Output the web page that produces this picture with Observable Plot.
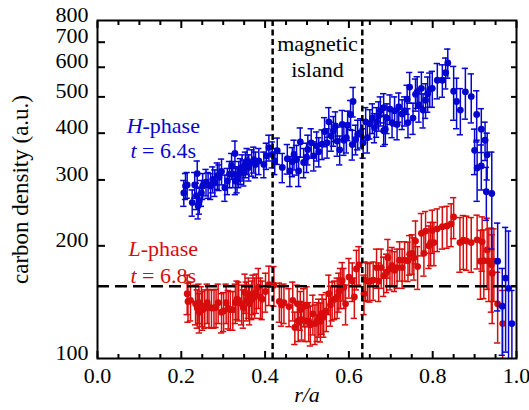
<!DOCTYPE html>
<html><head><meta charset="utf-8">
<script src="https://cdn.jsdelivr.net/npm/d3@7"></script>
<script src="https://cdn.jsdelivr.net/npm/@observablehq/plot@0.6"></script>
<style>
body{margin:0;background:#fff}
#chart svg, #chart svg text, #chart svg tspan { font-family: "Liberation Serif", "Times New Roman", serif !important; }
</style>
</head><body><div id="chart"></div>
<script>
// H-phase (t = 6.4 s), blue
const blueX = [0.206,0.210,0.214,0.226,0.232,0.236,0.238,0.240,0.243,0.248,0.251,0.259,0.264,0.270,0.275,0.280,0.286,0.290,0.296,0.304,0.310,0.315,0.320,0.323,0.328,0.329,0.333,0.337,0.341,0.345,0.349,0.353,0.357,0.361,0.368,0.373,0.377,0.385,0.397,0.403,0.409,0.417,0.423,0.429,
0.441,0.453,0.459,0.465,0.469,0.475,0.480,0.484,0.492,0.499,0.502,0.510,0.516,0.523,0.528,0.536,0.542,0.548,0.552,0.558,0.563,0.568,0.572,0.578,0.584,0.588,0.594,0.597,0.604,0.608,0.610,0.616,0.621,0.628,0.634,0.640,0.644,0.650,0.656,0.661,0.666,0.671,0.675,0.683,0.683,0.687,0.691,0.698,0.703,0.709,0.715,0.719,0.727,0.733,0.739,0.741,
0.745,0.753,0.759,0.763,0.767,0.773,0.777,0.783,0.788,0.793,0.799,0.811,0.823,0.831,0.836,0.850,0.857,0.866,0.878,0.892,0.905,
0.900,0.906,0.916,0.916,0.925,0.930,0.928,0.941,0.955,0.974,0.966,0.981,0.989];
const blueY = [277,289,291,261,291,272,312,256,264,277,289,296,291,289,301,295,308,305,316,286,298,311,327,311,353,298,301,311,317,324,314,330,337,324,334,340,330,337,330,348,366,351,337,359,
324,342,317,336,351,340,317,379,334,345,362,377,348,370,357,374,404,377,429,393,406,418,381,361,422,383,389,420,449,373,486,385,397,401,377,429,389,424,439,414,429,445,459,468,406,410,439,464,427,459,422,470,450,459,493,427,
531,439,508,516,476,527,461,490,510,524,527,554,554,580,616,518,486,461,516,501,449,
360,323,410,327,383,350,279,276,182,164,138,154,124];
const blueErr = [22,23,23,21,23,22,25,20,21,22,23,24,23,23,24,24,25,24,25,23,24,25,26,25,28,24,24,25,25,26,25,26,27,26,27,27,26,27,26,28,29,28,27,29,
29,31,29,30,32,31,29,34,30,31,33,34,31,33,32,34,36,34,39,35,37,38,34,32,38,34,35,38,40,34,44,35,36,36,34,39,35,38,40,37,39,40,41,42,37,37,40,42,38,41,38,42,41,41,44,38,
50,42,50,50,48,55,48,52,55,55,58,60,55,55,55,85,75,65,80,75,70,
50,60,55,45,45,50,45,80,48,60,36,65,28];

// L-phase (t = 6.8 s), red
const redX = [0.214,0.216,0.222,0.234,0.238,0.242,0.243,0.248,0.251,0.256,0.262,0.266,0.272,0.278,0.283,0.288,0.296,0.301,0.307,0.312,0.317,0.323,0.329,0.333,0.337,0.344,0.348,0.352,0.355,0.360,0.363,0.368,0.371,0.375,0.379,0.384,0.389,0.393,0.401,0.409,0.421,0.434,0.439,0.445,0.457,0.466,
0.471,0.477,0.479,0.484,0.487,0.492,0.495,0.500,0.504,0.508,0.514,0.519,0.524,0.528,0.532,0.536,0.540,0.546,
0.552,0.556,0.560,0.566,0.572,0.576,0.580,0.584,0.588,0.592,0.600,0.608,0.613,0.618,0.624,0.636,0.640,0.645,0.650,0.658,0.666,0.671,0.677,0.683,0.690,0.693,0.698,0.703,0.709,0.715,0.721,0.727,0.733,0.741,0.745,0.751,
0.755,0.759,0.764,0.773,0.779,0.783,0.791,0.795,0.799,0.803,0.811,0.823,0.834,0.844,0.850,0.865,0.873,0.881,0.892,0.906,0.918,
0.930,0.914,0.922,0.934,0.940,0.946,0.942,0.955,0.967];
const redY = [149,142,143,140,136.5,141,133,138.5,135,136.5,141,137,136.5,136.5,137,141,133,134,141,136,135,135,141,144,143,140,136.5,150,143,146,140,144,149,146,150,155,146,144,151,157.5,157,142,139,141,137.6,143,
121,140,126,135,127,137.6,126,138.5,126,123,131.6,124,126,129,125.7,132,129,134,
149,139,143,144,146,151,155,161.4,155,140,165,161,146,173.5,178,149,162,161,160.5,162,175,161,175,166.5,170,186,173.5,177,172,175,183,175,183,182.5,190,191,
186,206,176,216,191,219,200,204,220,204,222,225,226,229,239,204,207,206,204,207.5,205,
195,182,182.5,182,178,182,169,140,124];
const redErr = [18,17,17,17,16,17,16,17,16,16,17,16,16,16,16,17,16,16,17,16,16,16,17,17,17,17,16,18,17,18,17,17,18,18,18,19,18,17,18,19,19,17,17,17,16,17,
12,17,15,16,15,16,15,17,15,15,16,15,15,15,15,16,15,16,
18,17,17,17,18,18,19,19,19,17,20,19,18,21,21,18,19,19,19,19,21,19,21,20,20,22,21,21,21,21,22,21,22,22,23,23,
24,27,23,28,25,28,26,27,29,27,29,29,29,30,30,34,34,34,34,34,34,
42,38,38,40,45,40,45,30,28];

// reference lines
const islandBounds = [0.418, 0.632];
const refLevel = [156];

// ticks
const xMajor = [0, 0.2, 0.4, 0.6, 0.8, 1.0];
const xMinor = [0.05,0.1,0.15,0.25,0.3,0.35,0.45,0.5,0.55,0.65,0.7,0.75,0.85,0.9,0.95];
const yLabels = [100,200,300,400,500,600,700,800];
const yInner = [200,300,400,500,600,700];

// annotations
const BLUE = "#0505d0", RED = "#d80c0c";
const notes = [
  {x: 0.157, y: 418, text: "H-phase", color: BLUE},
  {x: 0.157, y: 359, text: "t = 6.4s", color: BLUE},
  {x: 0.157, y: 196.5, text: "L-phase", color: RED},
  {x: 0.157, y: 166.5, text: "t = 6.8s", color: RED},
  {x: 0.525, y: 692, text: "magnetic", color: "black"},
  {x: 0.525, y: 590, text: "island", color: "black"}
];

const blue = blueX.map((x, i) => ({x, y: blueY[i], e: blueErr[i]}));
const red = redX.map((x, i) => ({x, y: redY[i], e: redErr[i]}));
const capHalf = 0.0075;

function series(data, color) {
  return [
    Plot.ruleX(data, {x: "x", y1: d => d.y - d.e, y2: d => d.y + d.e, stroke: color, strokeWidth: 1.5, clip: true}),
    Plot.ruleY(data, {y: d => d.y + d.e, x1: d => d.x - capHalf, x2: d => d.x + capHalf, stroke: color, strokeWidth: 1.5, clip: true}),
    Plot.ruleY(data, {y: d => d.y - d.e, x1: d => d.x - capHalf, x2: d => d.x + capHalf, stroke: color, strokeWidth: 1.5, clip: true}),
    Plot.dot(data, {x: "x", y: "y", r: 3.4, fill: color, clip: true})
  ];
}

const chart = Plot.plot({
  width: 529, height: 410,
  marginLeft: 97, marginRight: 13, marginTop: 20, marginBottom: 52,
  style: {fontFamily: "Liberation Serif, serif", fontSize: "22px", background: "white", color: "black", overflow: "visible"},
  x: {domain: [0, 1]},
  y: {type: "log", domain: [100, 800]},
  marks: [
    ...series(red, RED),
    ...series(blue, BLUE),
    Plot.ruleX(islandBounds, {stroke: "black", strokeWidth: 2.5, strokeDasharray: "6,3.5"}),
    Plot.ruleY(refLevel, {stroke: "black", strokeWidth: 2.5, strokeDasharray: "12,6"}),
    Plot.frame({stroke: "black", strokeWidth: 2}),
    Plot.axisX(xMajor, {anchor: "bottom", tickSize: -7, strokeWidth: 2, tickFormat: () => "", label: null}),
    Plot.axisX(xMinor, {anchor: "bottom", tickSize: -4, strokeWidth: 2, tickFormat: () => "", label: null}),
    Plot.axisX(xMajor, {anchor: "top", tickSize: -7, strokeWidth: 2, tickFormat: () => "", label: null}),
    Plot.axisX(xMinor, {anchor: "top", tickSize: -4, strokeWidth: 2, tickFormat: () => "", label: null}),
    Plot.axisX(xMajor, {anchor: "bottom", tickSize: 0, tickPadding: 9, tickFormat: d3.format(".1f"), label: null, fontSize: 22}),
    Plot.axisY(yInner, {anchor: "left", tickSize: -8, strokeWidth: 2, tickFormat: () => "", label: null}),
    Plot.axisY(yInner, {anchor: "right", tickSize: -6, strokeWidth: 2, tickFormat: () => "", label: null}),
    Plot.axisY(yLabels, {anchor: "left", tickSize: 0, tickPadding: 9, dy: -6, tickFormat: d => String(d), label: null, fontSize: 22}),
    Plot.text(["r/a"], {frameAnchor: "middle", dy: 205, fontStyle: "italic", fontSize: 22}),
    Plot.text(["carbon density (a.u.)"], {frameAnchor: "middle", dx: -286, rotate: -90, fontSize: 23}),
    Plot.text(notes, {x: "x", y: "y", text: "text", fill: d => d.color, fontSize: 22})
  ]
});

// italic variables inside annotations
const italics = {"H-phase": ["H", "-phase"], "L-phase": ["L", "-phase"], "t = 6.4s": ["t", " = 6.4s"], "t = 6.8s": ["t", " = 6.8s"]};
chart.querySelectorAll("text").forEach(t => {
  const parts = italics[t.textContent];
  if (!parts) return;
  t.textContent = "";
  const a = document.createElementNS("http://www.w3.org/2000/svg", "tspan");
  a.setAttribute("font-style", "italic");
  a.textContent = parts[0];
  const b = document.createElementNS("http://www.w3.org/2000/svg", "tspan");
  b.textContent = parts[1];
  t.appendChild(a); t.appendChild(b);
});

document.getElementById("chart").appendChild(chart);
</script>
</body></html>
